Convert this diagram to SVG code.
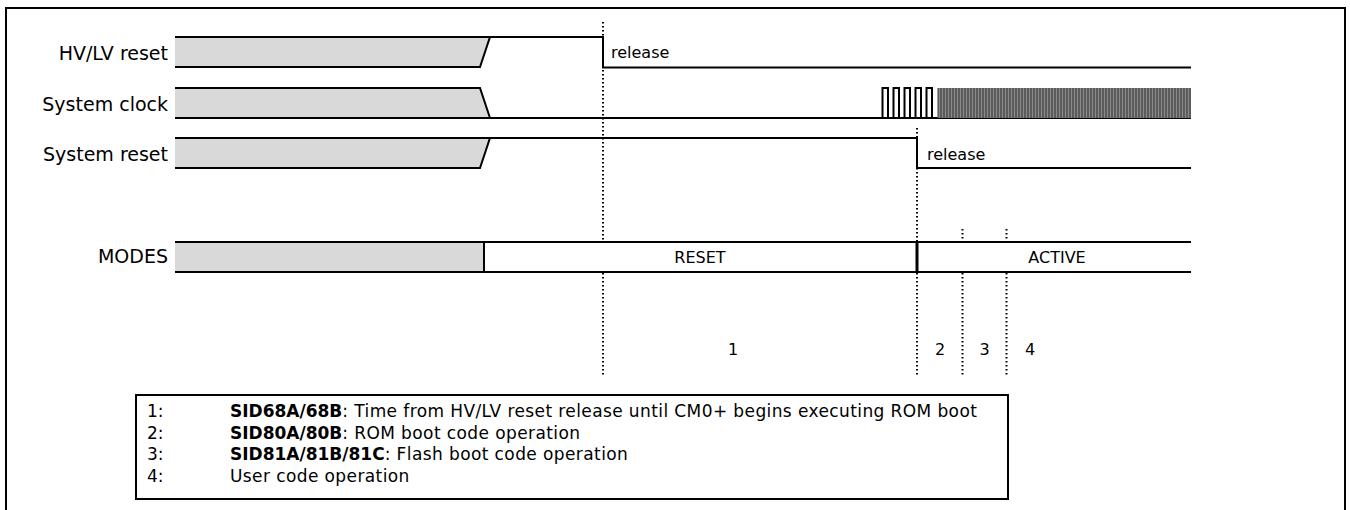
<svg xmlns="http://www.w3.org/2000/svg" width="1350" height="510" viewBox="0 0 1350 510">
<style>
.lbl{font-family:"DejaVu Sans",sans-serif;font-size:19px;fill:#000}
.sm{font-family:"DejaVu Sans",sans-serif;font-size:16px;fill:#000}
.lg{font-family:"DejaVu Sans",sans-serif;font-size:17px;fill:#000}
.rg{letter-spacing:0.4px}
.b{font-weight:bold;letter-spacing:0}
.sig{fill:none;stroke:#000;stroke-width:2}
.gray{fill:#d9d9d9;stroke:none}
.dot{fill:none;stroke:#000;stroke-width:2;stroke-dasharray:1.6 2.4}
</style>
<defs>
<pattern id="fast" x="937.5" y="0" width="3" height="40" patternUnits="userSpaceOnUse">
<rect x="0" y="0" width="1" height="40" fill="#2e2e2e"/>
</pattern>
</defs>
<rect width="1350" height="510" fill="#fff"/>
<path d="M6,515 V8 H1345 V515" fill="none" stroke="#000" stroke-width="2"/>

<g id="hvlv">
<text class="lbl" x="168" y="59.5" text-anchor="end">HV/LV reset</text>
<polygon class="gray" points="175,37 490,37 480,67 175,67"/>
<path class="sig" d="M175,37 H490 M175,67 H480 L490,37 H603 V67.5 H1191"/>
<text class="sm" x="611" y="58">release</text>
</g>

<g id="sysclk">
<text class="lbl" x="168" y="110.5" text-anchor="end">System clock</text>
<polygon class="gray" points="175,88 480,88 490,118 175,118"/>
<path class="sig" d="M175,88 H480 L490,118 M175,118 H1191"/>
<path class="sig" d="M882.5,118 V88 H888 V118 H893.5 V88 H899 V118 H904.5 V88 H910 V118 H915.5 V88 H921 V118 H926.5 V88 H932 V118 H937.5"/>
<rect x="937.5" y="88" width="253.5" height="30" fill="#8a8a8a"/>
<rect x="937.5" y="88" width="253.5" height="30" fill="url(#fast)"/>
</g>

<g id="sysreset">
<text class="lbl" x="168" y="160.5" text-anchor="end">System reset</text>
<polygon class="gray" points="175,138 490,138 480,168 175,168"/>
<path class="sig" d="M175,138 H490 M175,168 H480 L490,138 H917 V168 H1191"/>
<text class="sm" x="927" y="160">release</text>
</g>

<g id="modes">
<text class="lbl" x="168" y="263" text-anchor="end">MODES</text>
<rect class="gray" x="175" y="242" width="309" height="30"/>
<path class="sig" d="M175,242 H1191 M175,272 H1191"/>
<path d="M484,242 V272" stroke="#000" stroke-width="2"/>
<path d="M917,242 V272" stroke="#000" stroke-width="3"/>
<text class="sm" x="700" y="263" text-anchor="middle">RESET</text>
<text class="sm" x="1057" y="263" text-anchor="middle">ACTIVE</text>
</g>

<g id="markers">
<path class="dot" d="M603,22 V241 M603,273 V376"/>
<path class="dot" d="M917,128 V241 M917,273 V376"/>
<path class="dot" d="M962.5,229 V240 M962.5,273 V376"/>
<path class="dot" d="M1006.5,229 V240 M1006.5,273 V376"/>
<text class="sm" x="733" y="355" text-anchor="middle">1</text>
<text class="sm" x="940" y="355" text-anchor="middle">2</text>
<text class="sm" x="984.5" y="355" text-anchor="middle">3</text>
<text class="sm" x="1030" y="355" text-anchor="middle">4</text>
</g>

<g id="legend">
<rect x="136" y="395" width="872" height="104" fill="none" stroke="#000" stroke-width="2"/>
<text class="lg" x="147" y="417">1:</text>
<text class="lg" x="147" y="438.5">2:</text>
<text class="lg" x="147" y="460">3:</text>
<text class="lg" x="147" y="481.5">4:</text>
<text class="lg rg" x="230" y="417"><tspan class="b">SID68A/68B</tspan>: Time from HV/LV reset release until CM0+ begins executing ROM boot</text>
<text class="lg rg" x="230" y="438.5"><tspan class="b">SID80A/80B</tspan>: ROM boot code operation</text>
<text class="lg rg" x="230" y="460"><tspan class="b">SID81A/81B/81C</tspan>: Flash boot code operation</text>
<text class="lg rg" x="230" y="481.5">User code operation</text>
</g>
</svg>
